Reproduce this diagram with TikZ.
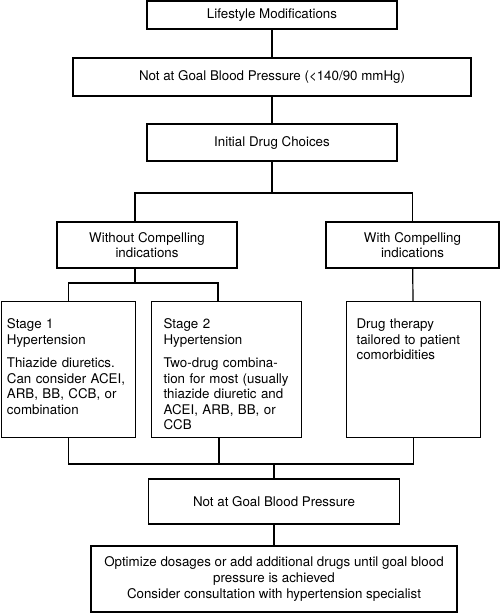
\documentclass[tikz,border=0pt]{standalone}
\usepackage{fontspec}
\setmainfont{TeX Gyre Heros}
\usetikzlibrary{calc}

\begin{document}
\begin{tikzpicture}[
  x=0.75pt, y=-0.75pt,
  font=\fontsize{10}{11.7}\selectfont,
  box/.style={rectangle, draw=black, line width=0.9pt, align=center, inner sep=0pt},
  stagebox/.style={box, anchor=north west, align=left, inner ysep=13pt,
                   text height=7.2pt, text depth=68.8pt},
  link/.style={draw=black, line width=0.9pt},
]
\useasboundingbox (0,0) rectangle (500,613);

% ---- top spine ----
\node[box, minimum width=187.5pt, minimum height=21pt] (life) at (272,15)
  {Lifestyle Modifications};
\node[box, minimum width=298.5pt, minimum height=28.5pt] (goal) at (272,77)
  {Not at Goal Blood Pressure (<140/90 mmHg)};
\node[box, minimum width=187.5pt, minimum height=27.75pt] (init) at (272,142.5)
  {Initial Drug Choices};

% ---- indication split ----
\node[box, minimum width=135pt, minimum height=34.5pt] (without) at (147,245)
  {Without Compelling\\indications};
\node[box, minimum width=129.75pt, minimum height=34.5pt] (with) at (412.5,245)
  {With Compelling\\indications};

% ---- treatment boxes ----
\node[stagebox, inner xsep=4pt, text width=92.5pt] (stage1) at (1,301)
  {Stage 1\\Hypertension\\[5.8pt]
   Thiazide diuretics.\\Can consider ACEI,\\ARB, BB, CCB, or\\combination};
\node[stagebox, inner xsep=9pt, text width=94.5pt] (stage2) at (151,301)
  {Stage 2\\Hypertension\\[5.8pt]
   Two-drug combina-\\tion for most (usually\\thiazide diuretic and\\ACEI, ARB, BB, or\\CCB};
\node[stagebox, inner xsep=7.5pt, text width=85.5pt] (drug) at (346,301)
  {Drug therapy\\tailored to patient\\comorbidities};

% ---- bottom spine ----
\node[box, minimum width=188.25pt, minimum height=33.75pt] (goal2) at (274,501.5)
  {Not at Goal Blood Pressure};
\node[box, minimum width=274.5pt, minimum height=49.5pt] (opt) at (274,579)
  {Optimize dosages or add additional drugs until goal blood\\
   pressure is achieved\\Consider consultation with hypertension specialist};

% ---- junction points ----
\coordinate (jTop) at (272,193);
\coordinate (jMid) at (135,283);
\coordinate (jMidR) at (218,283);
\coordinate (jBot) at (274,464);
\coordinate (jBotB) at (219,464);

% ---- connectors ----
\draw[link] (life) -- (goal);
\draw[link] (goal) -- (init);
\draw[link] (init) -- (jTop);
\draw[link] (without.north -| jMid) |- (jTop) -| (with.north);
\draw[link] (with) -- (drug);
\draw[link] (without.south -| jMid) -- (jMid);
\draw[link] (stage1.north) |- (jMidR) -- (jMidR |- stage2.north);
\draw[link] (stage1.south) |- (drug.south |- jBot) -- (drug.south);
\draw[link] (jBotB |- stage2.south) -- (jBotB);
\draw[link] (jBot) -- (goal2);
\draw[link] (goal2) -- (opt);
\end{tikzpicture}
\end{document}
